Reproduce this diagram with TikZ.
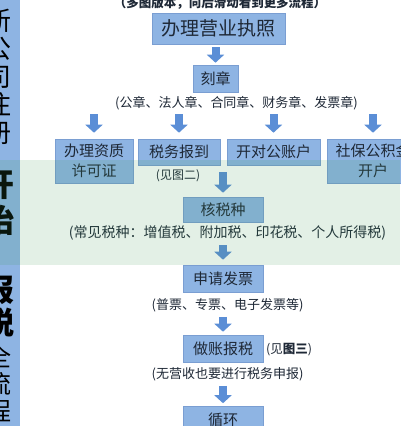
\documentclass[tikz,border=0pt]{standalone}
\usepackage{fontspec}
\setmainfont{Noto Sans CJK SC}
\usetikzlibrary{arrows.meta}
\definecolor{boxfill}{HTML}{8EB4E3}
\definecolor{boxline}{HTML}{7A9ED2}
\definecolor{arrowc}{HTML}{5B8ED6}
\definecolor{txt}{HTML}{1E2836}
\definecolor{wm}{RGB}{68,155,88}
\newcommand{\fsz}[1]{\fontsize{#1pt}{#1pt}\selectfont}
\begin{document}
\begin{tikzpicture}[x=1pt,y=-1pt,
  procbox/.style={draw=boxline, line width=0.6pt, fill=boxfill, text=txt, inner sep=0pt, align=center},
  note/.style={text=txt, inner sep=0pt, align=center},
  blockarrow/.style={draw=arrowc, line width=8pt, -{Triangle[width=17pt,length=8pt]}},
  sidetxt/.style={text=black, inner sep=0pt, align=center}]
\useasboundingbox (0,0) rectangle (400,426);
\fill[white] (0,0) rectangle (400,426);
% left bar
\fill[boxfill] (0,0) rectangle (20,426);
\node[sidetxt, font={\fontsize{26pt}{28pt}\selectfont}] (s1) at (-1,77) {新\\公\\司\\注\\册};
\node[sidetxt, font={\fontsize{32pt}{36pt}\selectfont\bfseries}] (s2) at (-1,203) {开\\始};
\node[sidetxt, font={\fontsize{31pt}{33pt}\selectfont\bfseries}] (s3) at (-1,306) {报\\税};
\node[sidetxt, font={\fontsize{25pt}{27pt}\selectfont}] (s4) at (-1,384) {全\\流\\程};
% top note
\node[note, font={\fsz{12.5}\bfseries}] (top) at (220,3) {（多图版本，向后滑动看到更多流程）};
% main boxes
\node[procbox, minimum width=133pt, minimum height=31pt, font=\fsz{19}] (lic) at (218.5,28.5) {办理营业执照};
\node[procbox, minimum width=45pt, minimum height=27pt, font=\fsz{15}] (seal) at (215.5,78.5) {刻章};
\node[note, font=\fsz{13}] (sealnote) at (236.5,103) {(公章、法人章、合同章、财务章、发票章)};
\node[procbox, minimum width=78pt, minimum height=44pt, font={\fontsize{15pt}{20pt}\selectfont}] (b1) at (94,161) {办理资质\\许可证};
\node[procbox, minimum width=82pt, minimum height=26pt, font=\fsz{15}] (b2) at (179,152) {税务报到};
\node[procbox, minimum width=93pt, minimum height=26pt, font=\fsz{15}] (b3) at (273.5,152) {开对公账户};
\node[procbox, minimum width=92pt, minimum height=44pt, font={\fontsize{15pt}{20pt}\selectfont}] (b4) at (373,161) {社保公积金\\开户};
\node[note, font=\fsz{12}] (see2) at (178,176) {(见图二)};
\node[procbox, minimum width=80pt, minimum height=25pt, font=\fsz{15}] (tax) at (223,209.5) {核税种};
\node[note, font=\fsz{14}] (taxnote) at (227.5,233) {(常见税种：增值税、附加税、印花税、个人所得税)};
\node[procbox, minimum width=80pt, minimum height=27pt, font=\fsz{15}] (inv) at (223,278.5) {申请发票};
\node[note, font=\fsz{13}] (invnote) at (227.5,305) {(普票、专票、电子发票等)};
\node[procbox, minimum width=80pt, minimum height=27pt, font=\fsz{15}] (acc) at (223,348.5) {做账报税};
\node[note, font=\fsz{12.5}, anchor=west] (see3) at (266,350) {(见\textbf{图三})};
\node[note, font=\fsz{13}] (accnote) at (227.5,374) {(无营收也要进行税务申报)};
\node[procbox, minimum width=80pt, minimum height=27pt, font=\fsz{15}] (loop) at (223,420) {循环};
% arrows
\draw[blockarrow, shorten <=3pt, shorten >=2pt] (seal.north |- lic.south) -- (seal.north);
\foreach \b in {b1,b2,b3,b4}
  \draw[blockarrow, shorten <=4pt, shorten >=6pt] (\b.north |- sealnote.south) -- (\b.north);
\draw[blockarrow, shorten <=7pt, shorten >=4pt] (tax.north |- b2.south) -- (tax.north);
\draw[blockarrow, shorten <=5pt, shorten >=5pt] (inv.north |- taxnote.south) -- (inv.north);
\draw[blockarrow, shorten <=5pt, shorten >=3pt] (acc.north |- invnote.south) -- (acc.north);
\draw[blockarrow, shorten <=5pt, shorten >=3pt] (loop.north |- accnote.south) -- (loop.north);
% translucent band
\fill[wm, opacity=0.15] (0,160) rectangle (400,265);
\end{tikzpicture}
\end{document}
